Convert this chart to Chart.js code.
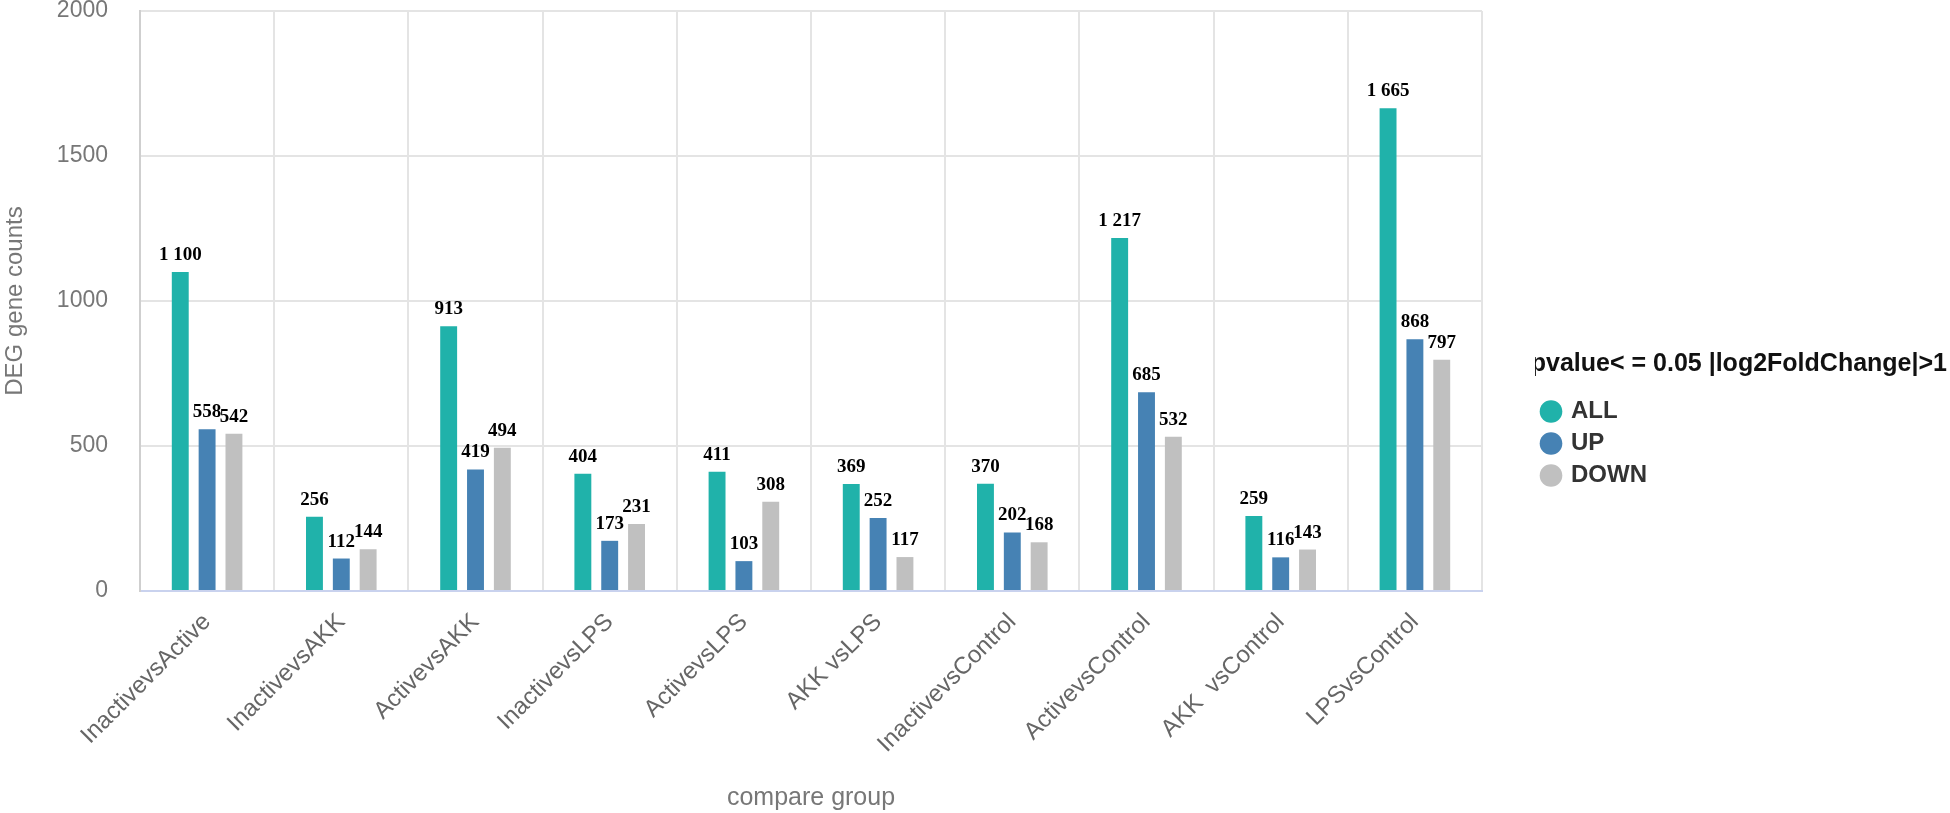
<!DOCTYPE html>
<html>
<head>
<meta charset="utf-8">
<title>DEG gene counts</title>
<script src="https://cdn.jsdelivr.net/npm/chart.js@4.4.1/dist/chart.umd.min.js"></script>
<style>
  html, body { margin: 0; padding: 0; background: #fff; }
  #wrap { width: 1950px; height: 813px; }
</style>
</head>
<body>
<div id="wrap"><canvas id="deg" width="1950" height="813"></canvas></div>
<script>
// compare groups and DEG counts (pvalue <= 0.05, |log2FC| > 1)
const groups = ['InactivevsActive', 'InactivevsAKK', 'ActivevsAKK', 'InactivevsLPS', 'ActivevsLPS',
  'AKK vsLPS', 'InactivevsControl', 'ActivevsControl', 'AKK  vsControl', 'LPSvsControl'];
const allCounts = [1100, 256, 913, 404, 411, 369, 370, 1217, 259, 1665];
const upCounts = [558, 112, 419, 173, 103, 252, 202, 685, 116, 868];
const downCounts = [542, 144, 494, 231, 308, 117, 168, 532, 143, 797];
const yTicks = [0, 500, 1000, 1500, 2000];

const SANS = '"Liberation Sans", Arial, sans-serif';
const spaced = n => String(n).replace(/\B(?=(\d{3})+(?!\d))/g, ' ');

// numbers on top of the bars
const barLabels = {
  id: 'barLabels',
  afterDatasetsDraw(chart) {
    const ctx = chart.ctx;
    ctx.save();
    ctx.font = 'bold 19px "Liberation Serif", "Times New Roman", serif';
    ctx.fillStyle = '#000';
    ctx.textAlign = 'center';
    ctx.textBaseline = 'alphabetic';
    chart.data.datasets.forEach((ds, i) => {
      chart.getDatasetMeta(i).data.forEach((bar, j) => {
        ctx.fillText(spaced(ds.data[j]), bar.x, bar.y - 12);
      });
    });
    ctx.restore();
  }
};

// the legend sits well to the right of the plot, with a long title
const legendRoom = {
  id: 'legendRoom',
  beforeInit(chart) {
    const fit = chart.legend.fit;
    chart.legend.fit = function () {
      fit.call(this);
      this.width = 468;
    };
  },
  afterLayout(chart) {
    const lg = chart.legend;
    lg.left += 53;
    lg.width -= 56;
    lg.top += 24;
  }
};

new Chart(document.getElementById('deg'), {
  type: 'bar',
  data: {
    labels: groups,
    datasets: [
      { label: 'ALL', data: allCounts, backgroundColor: '#20b2aa' },
      { label: 'UP', data: upCounts, backgroundColor: '#4682b4' },
      { label: 'DOWN', data: downCounts, backgroundColor: '#c0c0c0' }
    ]
  },
  options: {
    responsive: false,
    animation: false,
    datasets: { bar: { categoryPercentage: 0.6, barPercentage: 0.63 } },
    layout: { padding: 0 },
    plugins: {
      tooltip: { enabled: false },
      legend: {
        position: 'right',
        align: 'center',
        title: {
          display: true,
          text: 'pvalue< = 0.05 |log2FoldChange|>1',
          position: 'end',
          color: '#111',
          font: { family: SANS, size: 25, weight: 'bold' },
          padding: 10
        },
        labels: {
          usePointStyle: true,
          pointStyle: 'circle',
          boxWidth: 16,
          boxHeight: 16,
          padding: 8,
          color: '#333',
          font: { family: SANS, size: 24, weight: 'bold' }
        }
      }
    },
    scales: {
      x: {
        grid: {
          offset: true,
          drawTicks: false,
          lineWidth: 2,
          color: ctx => ctx.index === groups.length ? '#cfcfcf' : '#e4e4e4'
        },
        border: { color: '#c9d2ee', width: 2 },
        ticks: {
          minRotation: 45,
          maxRotation: 45,
          padding: 17,
          color: '#666',
          font: { family: SANS, size: 24 }
        },
        title: {
          display: true,
          text: 'compare group',
          color: '#777',
          font: { family: SANS, size: 25 },
          padding: { top: 25, bottom: 0 }
        },
        afterFit: s => { s.paddingLeft = 0; s.paddingRight = 0; s.height = 222; }
      },
      y: {
        min: 0,
        max: 2000,
        afterBuildTicks: s => { s.ticks = yTicks.map(v => ({ value: v })); },
        afterFit: s => { s.paddingTop = 11; s.width = 140; },
        grid: { drawTicks: false, lineWidth: 2, color: '#e4e4e4' },
        border: { color: '#cfcfcf', width: 2 },
        ticks: {
          padding: 32,
          color: '#777',
          font: { family: SANS, size: 23 },
          callback: v => String(v)
        },
        title: {
          display: true,
          text: 'DEG gene counts',
          color: '#777',
          font: { family: SANS, size: 24 },
          padding: { top: 1, bottom: 27 }
        }
      }
    }
  },
  plugins: [barLabels, legendRoom]
});
</script>
</body>
</html>
